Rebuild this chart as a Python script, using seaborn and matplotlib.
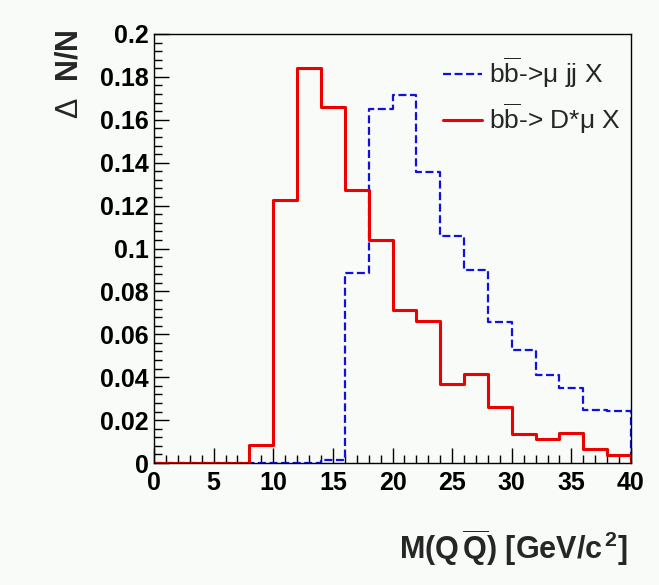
import numpy as np
import pandas as pd
import seaborn as sns
import matplotlib
matplotlib.use("Agg")
import matplotlib.pyplot as plt
from matplotlib.ticker import FixedLocator, FixedFormatter, MultipleLocator

# Invariant-mass histogram, 2 GeV/c^2 bins from 0 to 40
bin_edges = [0, 2, 4, 6, 8, 10, 12, 14, 16, 18, 20, 22, 24, 26, 28, 30, 32, 34, 36, 38, 40]
mu_jj = [0.0, 0.0, 0.0, 0.0, 0.0, 0.0, 0.0, 0.0012, 0.0886, 0.1652,
         0.1714, 0.1358, 0.1057, 0.0901, 0.0659, 0.0525, 0.0412, 0.0350, 0.0249, 0.0241]
dstar_mu = [0.0, 0.0, 0.0, 0.0, 0.0082, 0.1228, 0.1841, 0.1660, 0.1271, 0.1040,
            0.0712, 0.0664, 0.0368, 0.0416, 0.0260, 0.0137, 0.0113, 0.0138, 0.0067, 0.0037]
y_ticks = [0, 0.02, 0.04, 0.06, 0.08, 0.1, 0.12, 0.14, 0.16, 0.18, 0.2]
y_tick_labels = ["0", "0.02", "0.04", "0.06", "0.08", "0.1", "0.12", "0.14", "0.16", "0.18", "0.2"]
x_ticks = [0, 5, 10, 15, 20, 25, 30, 35, 40]
x_tick_labels = ["0", "5", "10", "15", "20", "25", "30", "35", "40"]

sns.set_theme(style="ticks")
plt.rcParams["font.family"] = ["Liberation Sans", "DejaVu Sans"]
plt.rcParams["mathtext.fontset"] = "custom"
plt.rcParams["mathtext.rm"] = "Liberation Sans"
plt.rcParams["mathtext.it"] = "Liberation Sans:italic"
plt.rcParams["mathtext.bf"] = "Liberation Sans:bold"

bg = "#f8fbf8"
fig = plt.figure(figsize=(6.59, 5.85), dpi=100, facecolor=bg)
ax = fig.add_axes([0.2337, 0.2085, 0.7238, 0.7334])
ax.set_facecolor(bg)

edges = np.asarray(bin_edges, dtype=float)

def step_outline(values):
    # ROOT-style outline: steps over the bins, then a drop to zero at the upper edge
    xs = np.concatenate([edges, [edges[-1]]])
    ys = np.concatenate([values, [values[-1], 0.0]])
    return pd.DataFrame({"x": xs, "y": ys})

blue = step_outline(np.asarray(mu_jj))
red = step_outline(np.asarray(dstar_mu))
sns.lineplot(data=blue, x="x", y="y", ax=ax, estimator=None, sort=False,
             drawstyle="steps-post", color="#1010e0", lw=1.6,
             linestyle=(0, (3.6, 1.6)), label=r"b$\overline{\mathrm{b}}$->$\mathrm{\mu}$ jj X")
sns.lineplot(data=red, x="x", y="y", ax=ax, estimator=None, sort=False,
             drawstyle="steps-post", color="#ee0000", lw=2.2,
             label=r"b$\overline{\mathrm{b}}$-> D*$\mathrm{\mu}$ X")

ax.set_xlim(0, 40)
ax.set_ylim(0, 0.2)
ax.xaxis.set_major_locator(FixedLocator(x_ticks))
ax.xaxis.set_major_formatter(FixedFormatter(x_tick_labels))
ax.xaxis.set_minor_locator(MultipleLocator(1))
ax.yaxis.set_major_locator(FixedLocator(y_ticks))
ax.yaxis.set_major_formatter(FixedFormatter(y_tick_labels))
ax.yaxis.set_minor_locator(MultipleLocator(0.004))
ax.tick_params(which="both", direction="in", top=False, right=False, colors="black", width=1.0)
ax.tick_params(which="major", length=11, labelsize=18)
ax.tick_params(axis="y", which="major", pad=4)
ax.tick_params(axis="x", which="major", pad=6)
ax.tick_params(which="minor", length=5.5)
for lab in ax.get_xticklabels() + ax.get_yticklabels():
    lab.set_fontweight("bold")
for sp in ax.spines.values():
    sp.set_color("black")
    sp.set_linewidth(1.0)

ax.set_xlabel("")
ax.set_ylabel("")
fig.text(0.953, 0.063, r"M(Q$\,\overline{\mathbf{Q}}$) [GeV/c$^{\,\mathbf{2}}$]",
         ha="right", va="center", fontsize=22, fontweight="bold")
fig.text(0.105, 0.950, r"$\Delta$  N/N", rotation=90, ha="center", va="top",
         fontsize=22, fontweight="bold")

leg = ax.legend(loc="upper right", bbox_to_anchor=(1.0, 0.975), frameon=False,
                fontsize=19, handlelength=1.5, handletextpad=0.25, labelspacing=0.45,
                borderaxespad=0)

fig.savefig("out.png", dpi=100, facecolor=bg)
